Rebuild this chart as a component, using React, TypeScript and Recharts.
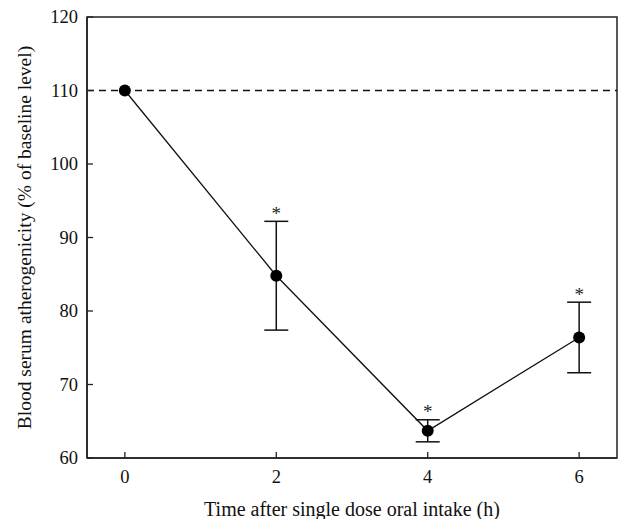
import React from 'react';
import { LineChart, Line, XAxis, YAxis, ErrorBar, ReferenceLine, ReferenceArea, LabelList } from 'recharts';

const hours = [0, 2, 4, 6];
const atherogenicity = [110, 84.8, 63.7, 76.4];
const sd = [null, 7.4, 1.5, 4.8];
const significant = [false, true, true, true];
const xTicks = [0, 2, 4, 6];
const yTicks = [60, 70, 80, 90, 100, 110, 120];
const baseline = 110;

const data = hours.map((h, i) => ({
  h,
  value: atherogenicity[i],
  err: sd[i],
  star: significant[i] ? atherogenicity[i] + (sd[i] ?? 0) : null,
}));

const FONT = '"Liberation Serif", "DejaVu Serif", serif';

const XTick = (props: any) => {
  const { x, y, payload } = props;
  const axisY = y - 10;
  return (
    <g>
      <line x1={x} x2={x} y1={axisY} y2={axisY - 6} stroke="#222" strokeWidth={1.3} />
      <text x={x} y={axisY + 25} textAnchor="middle" fontSize={18.5} fontFamily={FONT} fill="#111">
        {payload.value}
      </text>
    </g>
  );
};

const YTick = (props: any) => {
  const { x, y, payload } = props;
  const axisX = x + 9;
  return (
    <g>
      <line x1={axisX} x2={axisX + 6} y1={y} y2={y} stroke="#222" strokeWidth={1.3} />
      <text x={x} y={y + 6} textAnchor="end" fontSize={18.5} fontFamily={FONT} fill="#111">
        {payload.value}
      </text>
    </g>
  );
};

const YLabel = () => {
  const cy = 237.5;
  const cx = 24;
  return (
    <text
      x={cx}
      y={cy}
      transform={`rotate(-90 ${cx} ${cy})`}
      textAnchor="middle"
      dominantBaseline="central"
      fontSize={19.5}
      fontFamily={FONT}
      fill="#111"
    >
      Blood serum atherogenicity (% of baseline level)
    </text>
  );
};

const Star = (props: any) => {
  const { x, y, value } = props;
  if (value == null) return null;
  return (
    <text x={x} y={y - 1.5} textAnchor="middle" fontSize={19} fontFamily={FONT} fill="#222">
      *
    </text>
  );
};

export default function App() {
  return (
    <div style={{ position: 'absolute', left: 0, top: 0 }}>
      <LineChart width={619} height={519} data={data} margin={{ top: 17, right: 2, left: 0, bottom: 0 }}>
        <XAxis
          dataKey="h"
          type="number"
          domain={[-0.5, 6.5]}
          ticks={xTicks}
          height={61}
          tickSize={0}
          tickMargin={10}
          tick={<XTick />}
          axisLine={{ stroke: '#222', strokeWidth: 1.5 }}
          label={{ value: 'Time after single dose oral intake (h)', position: 'insideBottom', offset: 3, fontSize: 20, fontFamily: FONT, fill: '#111' }}
        />
        <YAxis
          type="number"
          domain={[60, 120]}
          ticks={yTicks}
          width={87}
          tickSize={0}
          tickMargin={9}
          tick={<YTick />}
          axisLine={{ stroke: '#222', strokeWidth: 1.5 }}
          label={<YLabel />}
        />
        <ReferenceArea x1={-0.5} x2={6.5} y1={60} y2={120} fill="none" stroke="#222" strokeWidth={1.5} ifOverflow="visible" />
        <ReferenceLine y={baseline} stroke="#111" strokeWidth={1.3} strokeDasharray="7 5" />
        <Line
          dataKey="value"
          stroke="#111"
          strokeWidth={1.3}
          dot={{ r: 6, fill: '#000', stroke: '#000', strokeWidth: 0 }}
          activeDot={false}
          isAnimationActive={false}
        >
          <ErrorBar dataKey="err" width={12} stroke="#111" strokeWidth={1.5} direction="y" />
        </Line>
        <Line dataKey="star" stroke="none" dot={false} activeDot={false} isAnimationActive={false} connectNulls={false}>
          <LabelList dataKey="star" content={<Star />} />
        </Line>
      </LineChart>
    </div>
  );
}
